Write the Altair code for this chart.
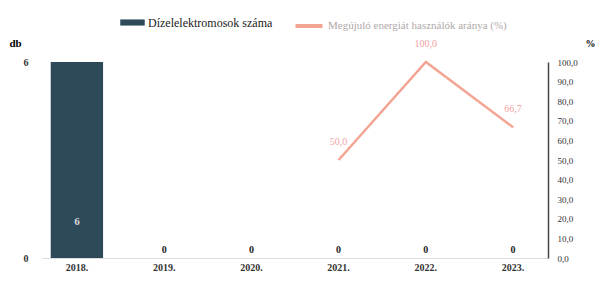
import altair as alt
import pandas as pd

years = ["2018.", "2019.", "2020.", "2021.", "2022.", "2023."]
counts = [6, 0, 0, 0, 0, 0]
pct = [None, None, None, 50.0, 100.0, 66.7]

s_bar = "Dízelelektromosok száma"
s_line = "Megújuló energiát használók aránya (%)"

df = pd.DataFrame({"year": years, "count": counts, "pct": pct})
df["bar_series"] = s_bar
df["line_series"] = s_line

BAR_C = "#2e4a5a"
LINE_C = "#f4a493"

fill = alt.Fill(
    "series:N",
    scale=alt.Scale(domain=[s_bar], range=[BAR_C]),
    legend=alt.Legend(
        title=None, orient="none", legendX=78, legendY=-52,
        symbolType="M-1,-0.25H1V0.25H-1Z", symbolSize=600, symbolStrokeWidth=0,
        labelFont="Liberation Serif", labelFontSize=12, labelColor="#222",
        labelLimit=300, labelOffset=3,
    ),
)
stroke = alt.Stroke(
    "series:N",
    scale=alt.Scale(domain=[s_line], range=[LINE_C]),
    legend=alt.Legend(
        title=None, orient="none", legendX=251, legendY=-52,
        symbolType="stroke", symbolSize=730, symbolStrokeWidth=4,
        labelFont="Liberation Serif", labelFontSize=11, labelColor="#b0a8a8",
        labelLimit=300, labelOffset=3,
    ),
)

x = alt.X("year:N", sort=years,
          axis=alt.Axis(title=None, labelAngle=0, labelFont="Liberation Serif",
                        labelFontWeight="bold", labelFontSize=10, labelColor="#333",
                        ticks=False, domainColor="#dddddd", labelPadding=4),
          scale=alt.Scale(paddingInner=0.4, paddingOuter=0.1))

base = alt.Chart(df)

yl = alt.Scale(domain=[0, 6])
axis_l = alt.Axis(title="db", titleAngle=0, titleAnchor="end", titleAlign="center",
                  titleY=-14, titleX=-27, titleFont="Liberation Serif",
                  titleFontSize=11, titleFontWeight="bold",
                  values=[0, 6], grid=False, domain=False, ticks=False,
                  labelFont="Liberation Serif", labelFontWeight="bold",
                  labelFontSize=10, labelColor="#333", labelPadding=14)

bars = base.transform_calculate(series="datum.bar_series").mark_bar().encode(
    x=x,
    y=alt.Y("count:Q", scale=yl, axis=axis_l),
    fill=fill,
)

zero_lbl = base.transform_filter("datum.count == 0").mark_text(
    dy=-8, font="Liberation Serif", fontWeight="bold", fontSize=10, color="#222"
).encode(x=x, y=alt.Y("count:Q", scale=yl, axis=axis_l), text=alt.Text("count:Q"))

big_lbl = base.transform_filter("datum.count > 0").mark_text(
    dy=-36, font="Liberation Serif", fontWeight="bold", fontSize=11, color="#d8d8d8"
).encode(x=x, y=alt.datum(0, scale=yl, axis=axis_l), text=alt.Text("count:Q"))

left = alt.layer(bars, zero_lbl, big_lbl)

yr = alt.Scale(domain=[0, 100])
axis_r = alt.Axis(orient="right", title="%", titleAngle=0, titleAnchor="end",
                  titleAlign="center", titleY=-14, titleX=42,
                  titleFont="Liberation Serif", titleFontSize=10,
                  titleFontWeight="bold",
                  values=list(range(0, 101, 10)), grid=False,
                  domainColor="#444", domainWidth=1.5, ticks=False,
                  labelOverlap=False,
                  labelExpr="replace(format(datum.value, '.1f'), '.', ',')",
                  labelFont="Liberation Serif", labelFontSize=9,
                  labelColor="#333", labelPadding=9)

line_df = base.transform_filter("datum.pct != null").transform_calculate(
    series="datum.line_series",
    lbl="replace(format(datum.pct, '.1f'), '.', ',')",
)
line = line_df.mark_line(strokeWidth=2.5).encode(
    x=x,
    y=alt.Y("pct:Q", scale=yr, axis=axis_r),
    stroke=stroke,
)
line_lbl = line_df.mark_text(
    dy=-18, font="Liberation Serif", fontSize=10, color="#f2a3a3").encode(
    x=x, y=alt.Y("pct:Q", scale=yr, axis=axis_r), text="lbl:N")

right = alt.layer(line, line_lbl)

chart = alt.layer(left, right).resolve_scale(y="independent", fill="independent",
                                             stroke="independent").properties(
    width=506, height=196,
    autosize=alt.AutoSizeParams(type="none"),
    padding={"left": 34, "top": 54, "right": 47, "bottom": 16},
).configure_view(stroke=None)

chart.save("out.html", embed_options={"renderer": "svg", "actions": False})
